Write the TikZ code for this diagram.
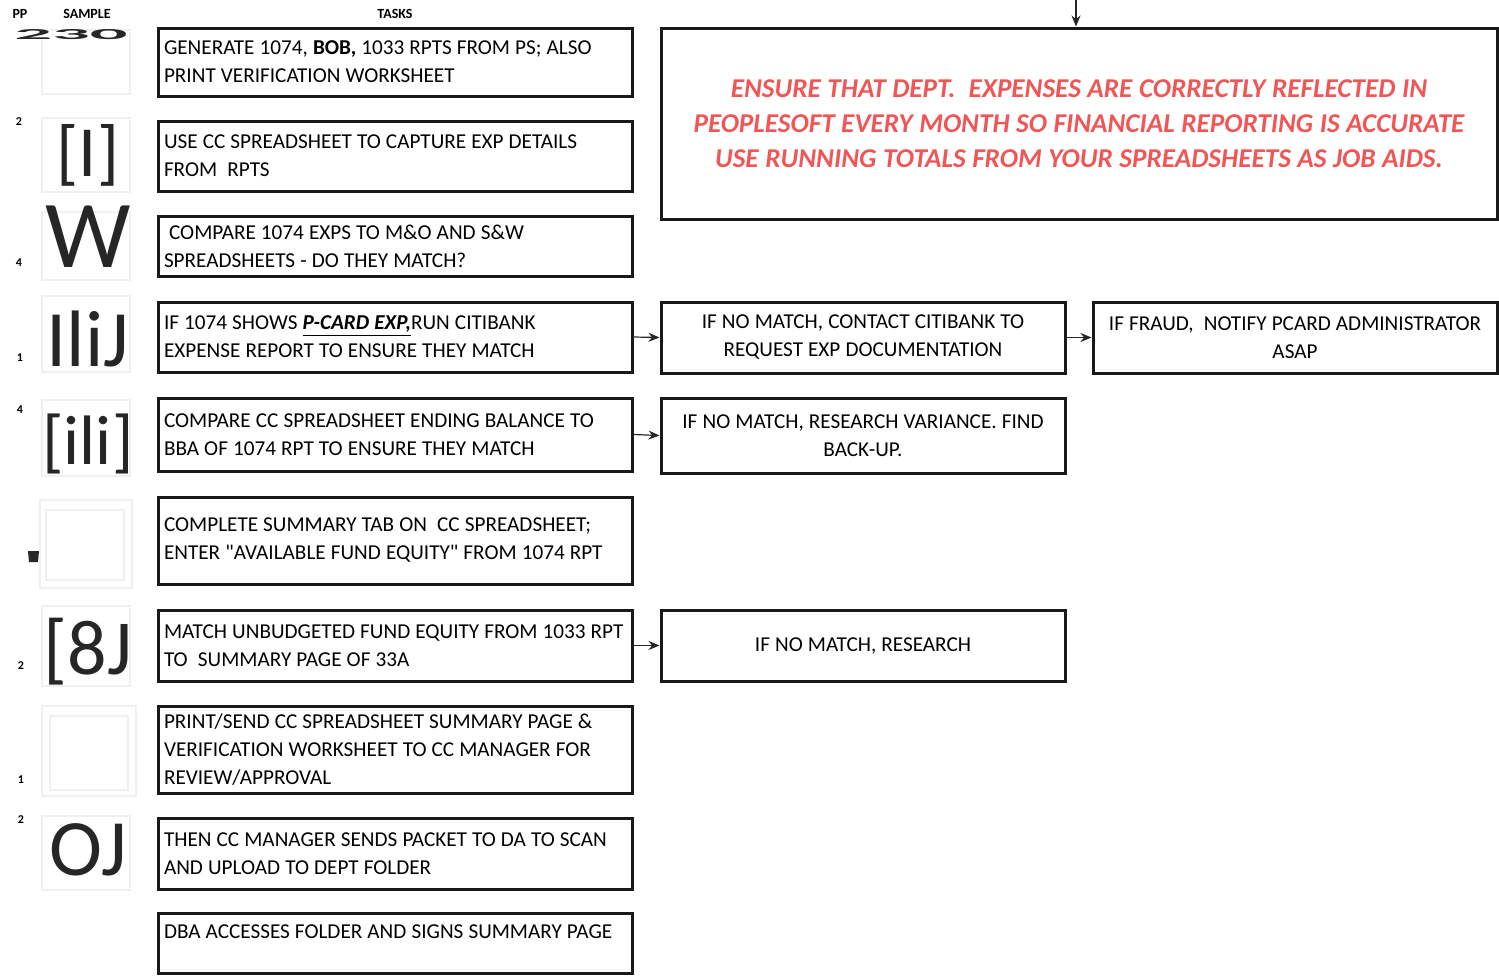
\documentclass[tikz,border=0pt]{standalone}
\usepackage{fontspec}
\setmainfont{Carlito}[Ligatures=TeXOff]
\usetikzlibrary{arrows.meta}
\definecolor{redtxt}{HTML}{F05656}
\tikzset{
  tight/.style={execute at begin node={\spaceskip=0.24em\xspaceskip=0.3em\relax}},
  box/.style={draw=black!90, line width=1.5pt, rectangle, inner xsep=2.5pt, inner ysep=0pt, tight},
  lbox/.style={box, minimum width=237pt, text width=231pt, align=left, font=\fontsize{10.6}{14}\selectfont},
  mbox/.style={box, minimum width=202pt, text width=196pt, align=center, font=\fontsize{10.6}{14}\selectfont},
  hdr/.style={font=\bfseries\fontsize{7}{8}\selectfont, inner sep=0pt},
  num/.style={font=\bfseries\fontsize{6}{7}\selectfont, inner sep=0pt},
  glyph/.style={inner sep=0pt, text=black!85},
  faint/.style={draw=black!6, line width=0.6pt},
  arr/.style={-{Stealth[length=5.5pt,width=4.5pt]}, line width=0.6pt, black!85}
}
\begin{document}
\begin{tikzpicture}[x=0.5pt,y=-0.5pt]
\useasboundingbox (0,0) rectangle (1499,975);
% headers
\node[hdr] (hpp) at (20,14) {PP};
\node[hdr] (hsample) at (87,14) {SAMPLE};
\node[hdr] (htasks) at (395,14) {TASKS};
% faint sample frames
\draw[faint] (42,30) rectangle (130,94);
\draw[faint] (42,118) rectangle (130,192);
\draw[faint] (42,212) rectangle (130,280);
\draw[faint] (42,296) rectangle (130,372);
\draw[faint] (42,400) rectangle (130,476);
\draw[faint] (40,500) rectangle (132,588);
\draw[faint] (46,510) rectangle (124,580);
\draw[faint] (42,606) rectangle (130,686);
\draw[faint] (42,706) rectangle (136,796);
\draw[faint] (50,716) rectangle (128,790);
\draw[faint] (42,816) rectangle (130,890);
% sample glyphs
\node[glyph] (g1) at (71,35) {\resizebox{56.5pt}{5pt}{\bfseries 230}};
\node[glyph, font=\fontsize{36}{36}\selectfont] (g2) at (88,155) {[I]};
\node[glyph, font=\fontsize{48}{48}\selectfont] (g3) at (88,237) {W};
\node[glyph, font=\fontsize{40}{40}\selectfont] (g4) at (88,339) {IliJ};
\node[glyph, font=\fontsize{35}{35}\selectfont] (g5) at (88,444) {[ili]};
\node[glyph, font=\fontsize{39}{39}\selectfont] (g7) at (88,652) {[8J};
\node[glyph, font=\fontsize{40}{40}\selectfont] (g9) at (88,850) {OJ};
\fill[black!85] (28,551) -- (39,551) -- (38,562) -- (29,562) -- cycle;
% small numbers
\node[num] (n2) at (19,122) {2};
\node[num] (n3) at (19,263) {4};
\node[num] (n4) at (20,358) {1};
\node[num] (n5) at (20,410) {4};
\node[num] (n7) at (21,666) {2};
\node[num] (n8) at (21,780) {1};
\node[num] (n9) at (21,820) {2};
% left task boxes
\node[lbox, minimum height=34pt] (b1) at (395,62) {GENERATE 1074, \textbf{BOB,} 1033 RPTS FROM PS; ALSO\\PRINT VERIFICATION WORKSHEET};
\node[lbox, minimum height=35pt] (b2) at (395,156) {USE CC SPREADSHEET TO CAPTURE EXP DETAILS\\FROM\ \ RPTS};
\node[lbox, minimum height=30pt] (b3) at (395,246) {\ COMPARE 1074 EXPS TO M\&O AND S\&W\\SPREADSHEETS - DO THEY MATCH?};
\node[lbox, minimum height=35pt] (b4) at (395,337) {IF 1074 SHOWS \underline{\textbf{\textit{P-CARD EXP,}}}RUN CITIBANK\\EXPENSE REPORT TO ENSURE THEY MATCH};
\node[lbox, minimum height=36.5pt] (b5) at (395,434.5) {COMPARE CC SPREADSHEET ENDING BALANCE TO\\BBA OF 1074 RPT TO ENSURE THEY MATCH};
\node[lbox, minimum height=43.5pt] (b6) at (395,540.5) {COMPLETE SUMMARY TAB ON\ \ CC SPREADSHEET;\\ENTER "AVAILABLE FUND EQUITY" FROM 1074 RPT};
\node[lbox, minimum height=35.5pt] (b7) at (395,645.5) {\mbox{MATCH UNBUDGETED FUND EQUITY FROM 1033 RPT}\\TO\ \ SUMMARY PAGE OF 33A};
\node[lbox, minimum height=43.5pt] (b8) at (395,749.5) {PRINT/SEND CC SPREADSHEET SUMMARY PAGE \&\\VERIFICATION WORKSHEET TO CC MANAGER FOR\\REVIEW/APPROVAL};
\node[lbox, minimum height=35.5pt] (b9) at (395,853.5) {THEN CC MANAGER SENDS PACKET TO DA TO SCAN\\AND UPLOAD TO DEPT FOLDER};
\node[lbox, minimum height=30pt, text height=11pt, text depth=16pt] (b10) at (395,943) {DBA ACCESSES FOLDER AND SIGNS SUMMARY PAGE};
% middle and right boxes
\node[mbox, minimum height=35.5pt] (m1) at (863,337.5) {IF NO MATCH, CONTACT CITIBANK TO\\REQUEST EXP DOCUMENTATION};
\node[mbox, minimum height=37.5pt] (m2) at (863,435.5) {IF NO MATCH, RESEARCH VARIANCE. FIND\\BACK-UP.};
\node[mbox, minimum height=35.5pt] (m3) at (863,645.5) {IF NO MATCH, RESEARCH};
\node[mbox, minimum height=35.5pt] (r1) at (1295,337.5) {IF FRAUD,\ \ NOTIFY PCARD ADMINISTRATOR\\ASAP};
% big goal box
\node[box, minimum width=418pt, minimum height=95.5pt, text width=412pt, align=center, text=redtxt, font=\bfseries\itshape\fontsize{13.6}{17.5}\selectfont] (big) at (1079,123.5) {ENSURE THAT DEPT.\ \ EXPENSES ARE CORRECTLY REFLECTED IN\\PEOPLESOFT EVERY MONTH SO FINANCIAL REPORTING IS ACCURATE\\USE RUNNING TOTALS FROM YOUR SPREADSHEETS AS JOB AIDS.};
% connectors
\coordinate (topin) at (1076,0);
\draw[arr] (topin) -- (topin |- big.north);
\draw[arr] (b4.east) -- (m1.west);
\draw[arr] (b5.east) -- (m2.west);
\draw[arr] (b7.east) -- (m3.west);
\draw[arr] (m1.east) -- (r1.west);
\end{tikzpicture}
\end{document}
